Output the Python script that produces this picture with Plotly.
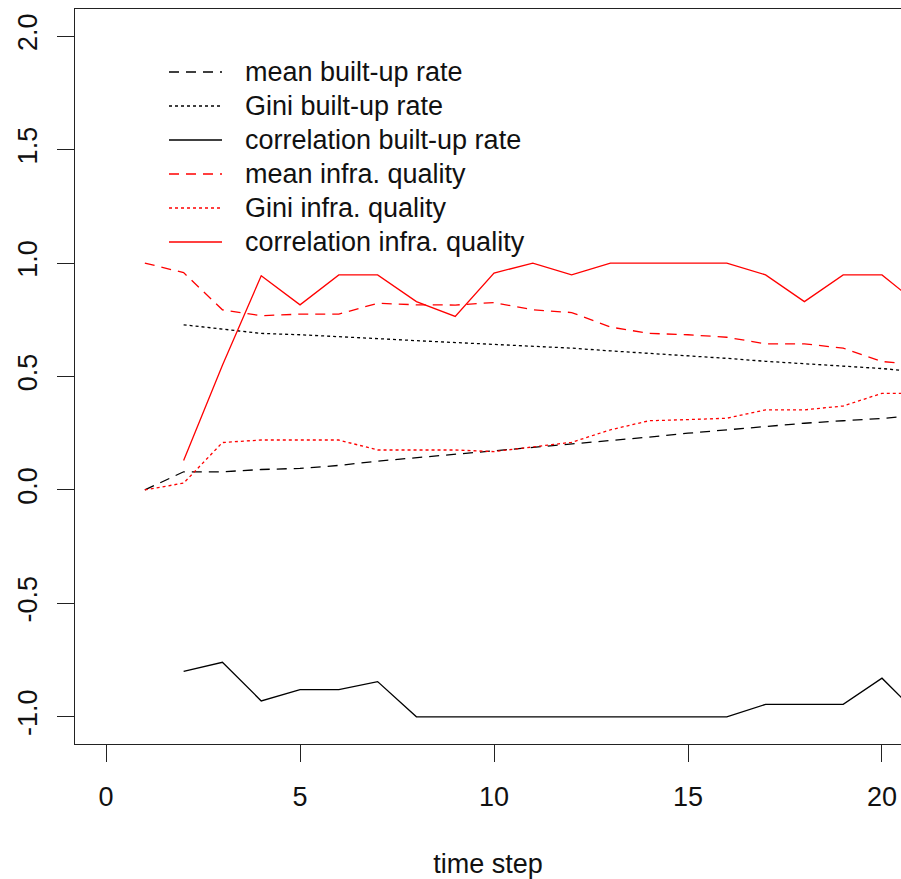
import plotly.graph_objects as go

steps = list(range(1, 22))
steps2 = list(range(2, 22))

mean_built = [0.0, 0.08, 0.08, 0.09, 0.095, 0.108, 0.127, 0.142, 0.157, 0.17, 0.185,
              0.203, 0.218, 0.233, 0.25, 0.265, 0.28, 0.294, 0.305, 0.315, 0.33]
gini_built = [0.728, 0.71, 0.69, 0.684, 0.677, 0.667, 0.658, 0.65, 0.643, 0.633,
              0.625, 0.613, 0.603, 0.59, 0.58, 0.567, 0.556, 0.547, 0.535, 0.52]
corr_built = [-0.80, -0.76, -0.93, -0.88, -0.88, -0.845, -1.0, -1.0, -1.0, -1.0,
              -1.0, -1.0, -1.0, -1.0, -1.0, -0.945, -0.945, -0.945, -0.83, -1.0]
mean_infra = [1.0, 0.958, 0.794, 0.768, 0.775, 0.775, 0.823, 0.816, 0.815, 0.826,
              0.794, 0.782, 0.718, 0.69, 0.684, 0.673, 0.644, 0.644, 0.625, 0.566, 0.55]
gini_infra = [0.0, 0.03, 0.209, 0.22, 0.22, 0.22, 0.176, 0.176, 0.176, 0.169, 0.19,
              0.21, 0.265, 0.305, 0.31, 0.316, 0.353, 0.353, 0.37, 0.426, 0.426]
corr_infra = [0.13, 0.55, 0.944, 0.816, 0.948, 0.948, 0.83, 0.765, 0.956, 1.0,
              0.948, 1.0, 1.0, 1.0, 1.0, 0.948, 0.83, 0.948, 0.948, 0.81]

legend_labels = ["mean built-up rate", "Gini built-up rate", "correlation built-up rate",
                 "mean infra. quality", "Gini infra. quality", "correlation infra. quality"]

DASH = "10px,7px"
DOT = "3px,3px"
series = [
    (steps, mean_built, "#000000", DASH),
    (steps2, gini_built, "#000000", DOT),
    (steps2, corr_built, "#000000", "solid"),
    (steps, mean_infra, "#ff0000", DASH),
    (steps, gini_infra, "#ff0000", DOT),
    (steps2, corr_infra, "#ff0000", "solid"),
]

W, H = 901, 879
L, R, T, B = 75, 0, 9, 135
pw, ph = W - L - R, H - T - B

fig = go.Figure()
for (xs, ys, col, dash), name in zip(series, legend_labels):
    fig.add_trace(go.Scatter(x=xs, y=ys, mode="lines", name=name, showlegend=False,
                             line=dict(color=col, width=1.3, dash=dash)))

FONT = "Liberation Sans, Arial, sans-serif"
FS = 27
shapes = []
annotations = []
row_y = [72, 106, 140, 174, 208, 242]
for (xs, ys, col, dash), name, py in zip(series, legend_labels, row_y):
    yp = (H - B - py) / ph
    shapes.append(dict(type="line", xref="paper", yref="paper",
                       x0=(169 - L) / pw, x1=(222 - L) / pw, y0=yp, y1=yp,
                       line=dict(color=col, width=1.3, dash=dash)))
    annotations.append(dict(text=name, xref="paper", yref="paper",
                            x=(243 - L) / pw, y=yp, xanchor="left", yanchor="middle",
                            showarrow=False, font=dict(size=FS, color="#111111", family=FONT)))

fig.update_layout(
    width=W, height=H,
    margin=dict(l=L, r=R, t=T, b=B, pad=0, autoexpand=False),
    paper_bgcolor="white", plot_bgcolor="white",
    showlegend=False,
    font=dict(family=FONT, size=FS, color="#111111"),
    shapes=shapes, annotations=annotations,
    xaxis=dict(range=[-0.8, 20.49], tickvals=[0, 5, 10, 15, 20], ticks="outside",
               ticklen=17, tickwidth=1, tickcolor="#222", showline=True, linecolor="#222",
               linewidth=1, mirror=True, showgrid=False, zeroline=False,
               ticklabelstandoff=12, automargin=False,
               title=dict(text="time step", font=dict(size=FS), standoff=43)),
    yaxis=dict(range=[-1.12, 2.12], tickvals=[-1, -0.5, 0, 0.5, 1, 1.5, 2],
               ticktext=["-1.0", "-0.5", "0.0", "0.5", "1.0", "1.5", "2.0"],
               tickangle=-90, ticks="outside", ticklen=17, tickwidth=1, tickcolor="#222",
               showline=True, linecolor="#222", linewidth=1, showgrid=False,
               zeroline=False, ticklabelstandoff=9, automargin=False),
)

fig.write_html("out.html", config={"displayModeBar": False})
with open("out.html", encoding="utf-8") as f:
    html = f.read()
html = html.replace("<head>", "<head><style>html,body{margin:0;padding:0;overflow:hidden;}</style>", 1)
with open("out.html", "w", encoding="utf-8") as f:
    f.write(html)
